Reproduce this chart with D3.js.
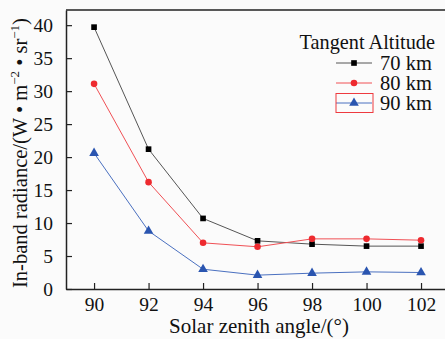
<!DOCTYPE html>
<html>
<head>
<meta charset="utf-8">
<script src="https://cdn.jsdelivr.net/npm/d3@7"></script>
<style>
  body { margin: 0; background: #fbfbfb; }
</style>
</head>
<body>
<div id="chart"></div>
<script>
// data
var angles = [90, 92, 94, 96, 98, 100, 102];
var alt70 = [39.7, 21.2, 10.7, 7.3, 6.8, 6.5, 6.5];
var alt80 = [31.1, 16.2, 7.0, 6.4, 7.6, 7.6, 7.4];
var alt90 = [20.6, 8.8, 3.0, 2.1, 2.4, 2.6, 2.5];
var yTicks = [0, 5, 10, 15, 20, 25, 30, 35, 40];
var seriesNames = ["70 km", "80 km", "90 km"];

var svgWidth = 445;
var svgHeight = 339;
var serif = "'Liberation Serif'";

var margin = { top: 10, right: -6, bottom: 50, left: 66 };
var width = svgWidth - margin.left - margin.right;
var height = svgHeight - margin.top - margin.bottom;

var svg = d3.select("#chart")
  .append("svg")
  .attr("width", svgWidth)
  .attr("height", svgHeight);

var chartGroup = svg.append("g")
  .attr("transform", `translate(${margin.left}, ${margin.top})`);

var x = d3.scaleLinear().domain([88.97, 103.1]).range([0, width]);
var y = d3.scaleLinear().domain([0, 42.3]).range([height, 0]);

var series = [
  { name: seriesNames[0], values: alt70, color: "#000000", line: "#555555", shape: d3.symbolSquare, size: 32 },
  { name: seriesNames[1], values: alt80, color: "#ee2a2f", line: "#f05055", shape: d3.symbolCircle, size: 34 },
  { name: seriesNames[2], values: alt90, color: "#2a55b0", line: "#4a70c0", shape: d3.symbolTriangle, size: 40 }
];

// top frame
chartGroup.append("line")
  .attr("x1", 0).attr("x2", width)
  .attr("y1", 0).attr("y2", 0)
  .attr("stroke", "#222").attr("stroke-width", 1.5);

var xAxis = chartGroup.append("g")
  .attr("transform", `translate(0, ${height})`)
  .call(d3.axisBottom(x).tickValues(angles).tickSizeInner(-6).tickSizeOuter(0).tickPadding(8));

var yAxis = chartGroup.append("g")
  .call(d3.axisLeft(y).tickValues(yTicks).tickSizeInner(-6).tickSizeOuter(0).tickPadding(13));

[xAxis, yAxis].forEach(function(ax) {
  ax.select(".domain").attr("stroke", "#222").attr("stroke-width", 1.5);
  ax.selectAll(".tick line").attr("stroke", "#222").attr("stroke-width", 1.2);
  ax.selectAll("text").style("font-size", "19.5px").attr("fill", "#111");
});

var line = d3.line()
  .x(function(d, i) { return x(angles[i]); })
  .y(function(d) { return y(d); });

series.forEach(function(s) {
  chartGroup.append("path")
    .datum(s.values)
    .attr("fill", "none")
    .attr("stroke", s.line)
    .attr("stroke-width", 1)
    .attr("d", line);

  chartGroup.selectAll(null)
    .data(s.values)
    .enter()
    .append("path")
    .attr("transform", function(d, i) { return `translate(${x(angles[i])}, ${y(d)})`; })
    .attr("d", d3.symbol().type(s.shape).size(s.size))
    .attr("fill", s.color);
});

// axis titles
svg.append("text")
  .attr("x", 259)
  .attr("y", 333)
  .attr("text-anchor", "middle")
  .style("font-size", "21px")
  .attr("fill", "#111")
  .text("Solar zenith angle/(°)");

var yLabel = svg.append("text")
  .attr("transform", "translate(27, 153) rotate(-90)")
  .attr("text-anchor", "middle")
  .style("font-size", "20.5px")
  .attr("fill", "#111");
yLabel.append("tspan").text("In-band radiance/(W • m");
yLabel.append("tspan").attr("dy", -8).style("font-size", "13px").text("−2");
yLabel.append("tspan").attr("dy", 8).text(" • sr");
yLabel.append("tspan").attr("dy", -8).style("font-size", "13px").text("−1");
yLabel.append("tspan").attr("dy", 8).text(")");

// legend
var legend = svg.append("g");
legend.append("text")
  .attr("x", 435).attr("y", 49)
  .attr("text-anchor", "end")
  .style("font-size", "20.3px")
  .attr("fill", "#111")
  .text("Tangent Altitude");

series.forEach(function(s, i) {
  var ly = 63 + i * 20;
  legend.append("line")
    .attr("x1", 336).attr("x2", 372)
    .attr("y1", ly).attr("y2", ly)
    .attr("stroke", s.line).attr("stroke-width", 1);
  legend.append("path")
    .attr("transform", `translate(354, ${ly})`)
    .attr("d", d3.symbol().type(s.shape).size(s.size))
    .attr("fill", s.color);
  legend.append("text")
    .attr("x", 380).attr("y", ly + 7)
    .style("font-size", "20.5px")
    .attr("fill", "#111")
    .text(s.name);
});

legend.append("rect")
  .attr("x", 336).attr("y", 93.5)
  .attr("width", 37).attr("height", 19)
  .attr("fill", "none")
  .attr("stroke", "#ee3a3f")
  .attr("stroke-width", 1);

svg.selectAll("text").style("font-family", serif);
</script>
</body>
</html>
